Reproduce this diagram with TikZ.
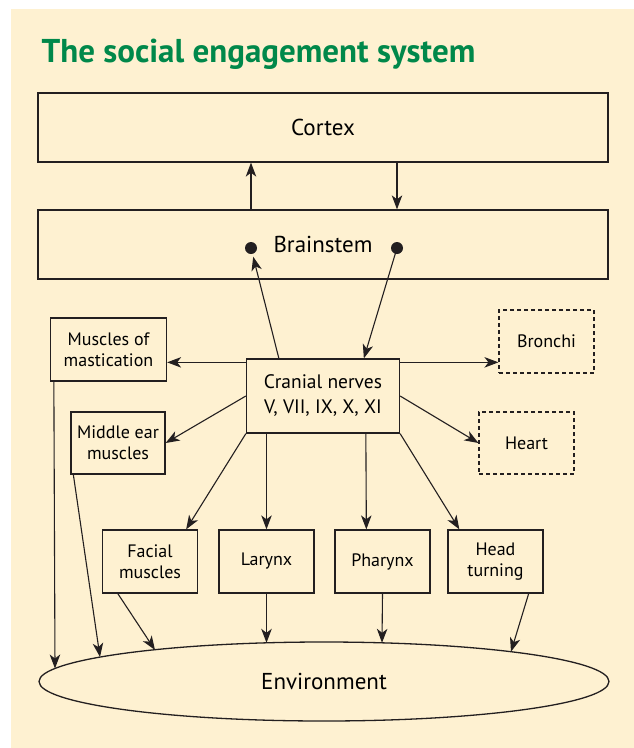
\documentclass[tikz,border=0pt]{standalone}
\usepackage{fontspec}
\setmainfont{PT Sans}
\usepackage{xcolor}
\usetikzlibrary{shapes,arrows.meta,positioning,calc}
\definecolor{panel}{HTML}{FEF1D1}
\definecolor{titlegreen}{HTML}{00884A}
\definecolor{ink}{HTML}{231F20}

\begin{document}
\begin{tikzpicture}[x=1pt,y=-1pt,
    box/.style={draw=ink, line width=1.3pt, inner sep=0pt, align=center,
                minimum width=#1, font=\fontsize{18}{21}\selectfont},
    box/.default=95pt,
    wide/.style={draw=ink, line width=1.3pt, minimum width=570pt, minimum height=69pt,
                 font=\fontsize{23}{26}\selectfont},
    dashbox/.style={box, line width=1.1pt, dashed, dash pattern=on 4pt off 3pt},
    arr/.style={draw=ink, line width=1.1pt, -{Stealth[length=14pt,width=10.5pt,inset=4pt]}}]
    \useasboundingbox (0,0) rectangle (634,748);
    \fill[white] (0,0) rectangle (634,748);
    \fill[panel] (11,9) rectangle (634,748);
    \node[anchor=base west, text=titlegreen, font=\fontsize{33}{36}\bfseries] (title) at (38,62) {The social engagement system};
    \node[wide] (cortex) at (323,127.5) {Cortex};
    \node[wide] (brainstem) at (323,244.5) {Brainstem};
    \coordinate (dotL) at (251,248);
    \coordinate (dotR) at (397,248);
    \fill[ink] (dotL) circle (6pt) (dotR) circle (6pt);
    \node[box=153pt, minimum height=74pt, font=\fontsize{19.5}{25}\selectfont] (cranial) at (323,396) {Cranial nerves\\V, VII, IX, X, XI};
    \node[box=116pt, minimum height=63pt] (mast) at (108.5,349.5) {Muscles of\\mastication};
    \node[box=94pt, minimum height=62pt] (midear) at (118,443) {Middle ear\\muscles};
    \node[dashbox, minimum height=63pt] (bronchi) at (546.5,341.5) {Bronchi};
    \node[dashbox, minimum height=62pt] (heart) at (526.5,443) {Heart};
    \foreach \n/\t/\x in {facial/{Facial\\muscles}/150, larynx/Larynx/266.5,
                          pharynx/Pharynx/382.5, head/{Head\\turning}/495.5}
        \node[box, minimum height=63pt] (\n) at (\x,561.5) {\t};
    \node[draw=ink, line width=1.3pt, ellipse, inner sep=0pt, minimum width=570pt, minimum height=79pt,
          font=\fontsize{23}{26}\selectfont] (env) at (324,681.5) {Environment};
    \draw[arr] (brainstem.north -| dotL) -- (cortex.south -| dotL);
    \draw[arr] (cortex.south -| dotR) -- (brainstem.north -| dotR);
    \draw[arr, shorten >=9pt] ($(cranial.north west)+(33,0)$) -- (dotL);
    \draw[arr] (dotR) -- ($(cranial.north west)+(118,0)$);
    \coordinate (h) at ($(cranial.north west)+(0,4)$);
    \draw[arr] (h) -- (h -| mast.east);
    \draw[arr] (h -| cranial.east) -- (h -| bronchi.west);
    \draw[arr] (cranial.west) -- (midear.east);
    \draw[arr] (cranial.east) -- (heart.west);
    \draw[arr] (cranial.south west) -- ($(facial.north east)+(-12,0)$);
    \draw[arr] (cranial.south -| larynx.north) -- (larynx.north);
    \draw[arr] ($(cranial.south west)+(120,0)$) -- ($(pharynx.north west)+(32,0)$);
    \draw[arr] (cranial.south east) -- ($(head.north west)+(12,0)$);
    \draw[arr] ($(mast.south west)+(4,0)$) -- ($(env.center)+(-269,-13)$);
    \draw[arr] ($(midear.south west)+(3,0)$) -- ($(env.center)+(-224,-24.5)$);
    \draw[arr] ($(facial.south west)+(16,0)$) -- ($(env.center)+(-169,-31.5)$);
    \draw[arr] (larynx.south) -- ($(env.center)+(-57.5,-38.7)$);
    \draw[arr] (pharynx.south) -- ($(env.center)+(58,-38.7)$);
    \draw[arr] ($(head.south east)+(-15,0)$) -- ($(env.center)+(187,-29.8)$);
\end{tikzpicture}
\end{document}
